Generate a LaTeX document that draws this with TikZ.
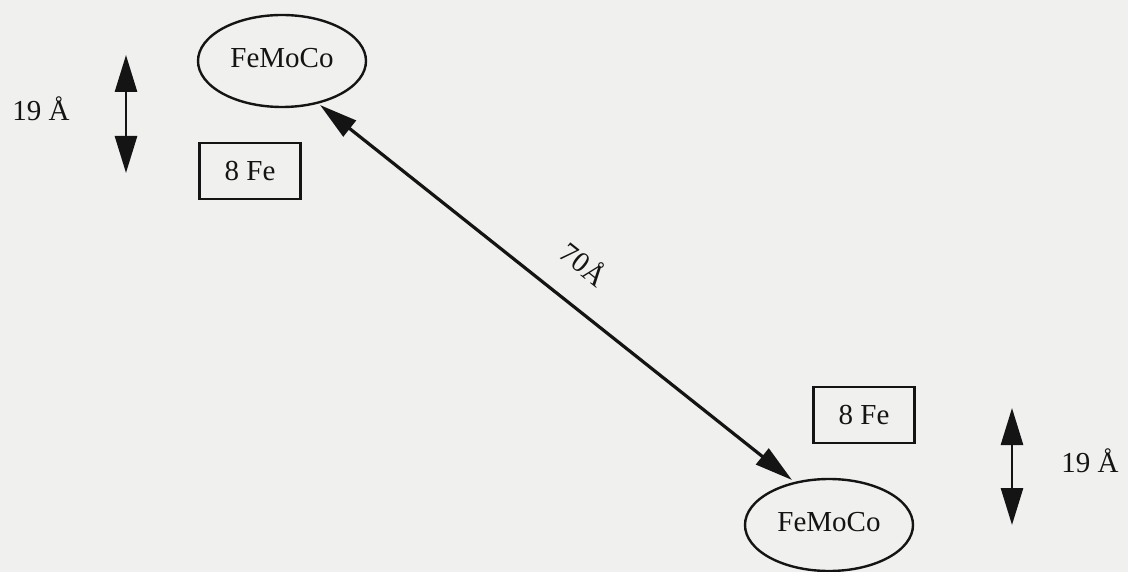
\documentclass[tikz,border=0pt]{standalone}
\usepackage{fontspec}
\setmainfont{Liberation Serif}
\usetikzlibrary{arrows.meta,shapes.geometric}
\definecolor{paper}{RGB}{240,240,238}
\definecolor{ink}{RGB}{20,20,20}
\tikzset{
  cluster/.style={ellipse, draw=ink, line width=2.4pt, minimum width=168pt, minimum height=92pt, inner sep=0pt, font=\fontsize{29}{34}\selectfont, text=ink},
  febox/.style={rectangle, draw=ink, line width=2.4pt, minimum width=101pt, minimum height=56pt, inner sep=0pt, font=\fontsize{29}{34}\selectfont, text=ink},
  dist/.style={font=\fontsize{29}{34}\selectfont, text=ink},
  span/.style={draw=ink, line width=2.8pt, {Triangle[length=37pt,width=22pt]}-{Triangle[length=37pt,width=22pt]}},
  link/.style={draw=ink, line width=3.2pt, {Triangle[length=38pt,width=20pt]}-{Triangle[length=38pt,width=20pt]}}
}
\begin{document}
\begin{tikzpicture}[x=1pt,y=-1pt]
  \fill[paper] (0,0) rectangle (1128,572);
  \useasboundingbox (0,0) rectangle (1128,572);

  % upper cluster pair
  \node[cluster] (moA) at (282,61) {\raisebox{6pt}{FeMoCo}};
  \node[febox] (feA) at (250,171) {8 Fe};
  \coordinate (spA1) at (126,55);
  \coordinate (spA2) at (126,173);
  \draw[span] (spA1) -- (spA2);
  \node[dist] (dA) at (41,109) {19 Å};

  % lower cluster pair
  \node[cluster] (moB) at (829,525) {\raisebox{6pt}{FeMoCo}};
  \node[febox] (feB) at (864,415) {8 Fe};
  \coordinate (spB1) at (1012,408);
  \coordinate (spB2) at (1012,525);
  \draw[span] (spB1) -- (spB2);
  \node[dist] (dB) at (1090,461) {19 Å};

  % distance between the two FeMoCo clusters
  \coordinate (endA) at (320,105);
  \coordinate (endB) at (792,480);
  \draw[link] (endA) -- node[dist, sloped, above=27pt, pos=0.507, inner sep=0pt] (dAB) {70Å} (endB);
\end{tikzpicture}
\end{document}
